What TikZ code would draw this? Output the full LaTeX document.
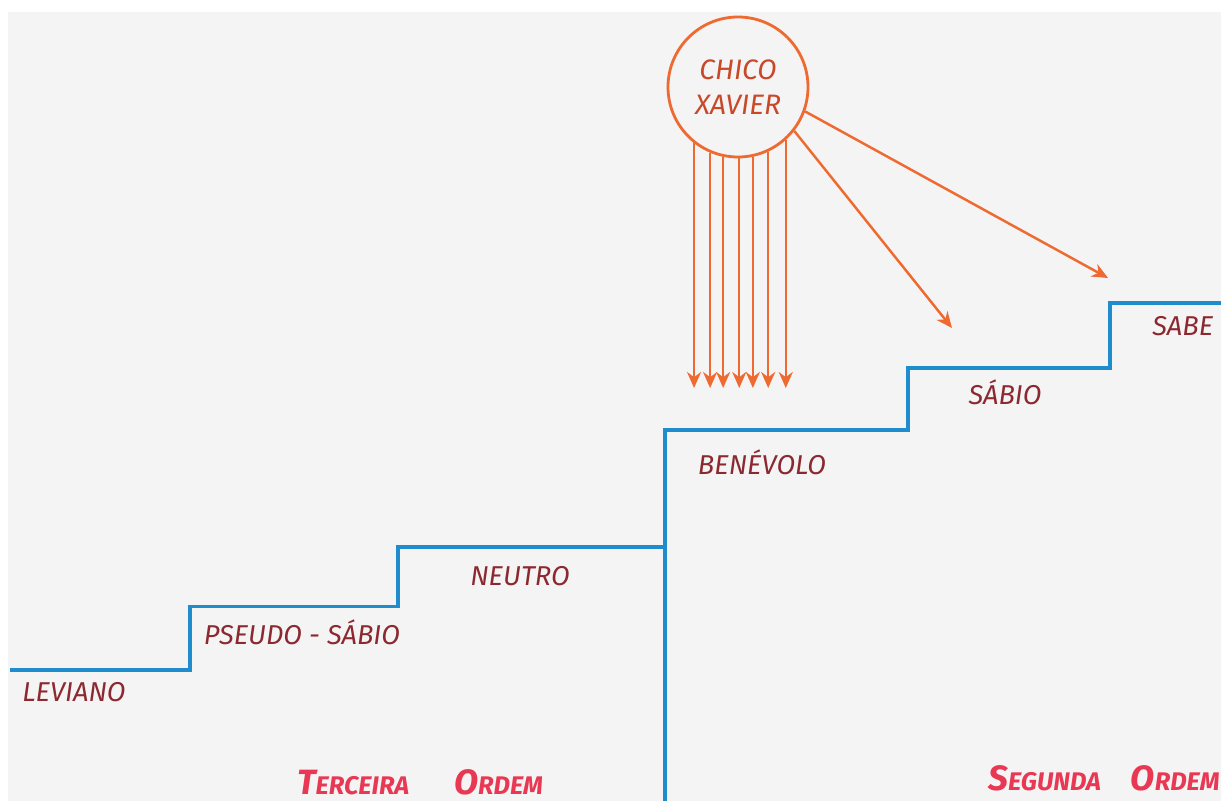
\documentclass[tikz,border=0pt]{standalone}
\usepackage{fontspec}
\setmainfont{Fira Sans}
\usetikzlibrary{arrows.meta,positioning,calc}
\definecolor{escalaPaper}{RGB}{244, 244, 244}
\definecolor{escalaBlue}{RGB}{30, 140, 205}
\definecolor{escalaOrange}{RGB}{238, 106, 48}
\definecolor{escalaRust}{RGB}{200, 72, 40}
\definecolor{escalaWine}{RGB}{140, 40, 48}
\definecolor{escalaPink}{RGB}{232, 56, 84}
\newcommand{\ordemcap}[2]{{\fontsize{20}{22}\selectfont #1}#2}

\begin{document}
\begin{tikzpicture}[
  stair/.style={line width=2pt, escalaBlue, line join=miter},
  grau/.style={text=escalaWine, font=\fontsize{15.5}{18}\selectfont\itshape, inner sep=0pt},
  ordem/.style={text=escalaPink, font=\fontsize{14.5}{17}\selectfont\bfseries\itshape, inner sep=0pt},
  spirit/.style={
    draw=escalaOrange,
    line width=1.6pt,
    circle,
    minimum size=2.8cm,
    align=center,
    text=escalaRust,
    font=\fontsize{16}{20}\selectfont\itshape
  },
  ray/.style={-{Stealth[length=3.2mm,width=2.8mm]}, line width=1.4pt, escalaOrange}
]
  % paper and page size
  \useasboundingbox (0,0) rectangle (24.42,-16.02);
  \fill[white] (0,0) rectangle (24.42,-16.02);
  \fill[escalaPaper] (0.16,-0.24) rectangle (24.42,-16.02);

  % the staircase
  \draw[stair] (0.2,-13.4) -- (3.8,-13.4) -- (3.8,-12.13) -- (7.96,-12.13)
    -- (7.96,-10.94) -- (13.3,-10.94);
  \draw[stair] (13.3,-16.02) -- (13.3,-8.6) -- (18.16,-8.6) -- (18.16,-7.36)
    -- (22.2,-7.36) -- (22.2,-6.06) -- (24.42,-6.06);

  % steps
  \node[grau] (leviano) at (1.48,-13.84) {LEVIANO};
  \node[grau] (pseudo) at (6.04,-12.64) {PSEUDO - SÁBIO};
  \node[grau] (neutro) at (10.4,-11.52) {NEUTRO};
  \node[grau] (benevolo) at (15.24,-9.24) {BENÉVOLO};
  \node[grau] (sabio) at (20.1,-7.84) {SÁBIO};
  \node[grau,anchor=west] (sabe) at (23.04,-6.52) {SABE};

  % orders
  \node[ordem] (terceira) at (8.4,-15.64) {\ordemcap{T}{ERCEIRA}\hspace{0.9cm}\ordemcap{O}{RDEM}};
  \node[ordem,anchor=east] (segunda) at (24.4,-15.56) {\ordemcap{S}{EGUNDA}\hspace{0.6cm}\ordemcap{O}{RDEM}};

  % Chico Xavier and his rays
  \node[spirit] (chico) at (14.76,-1.74) {CHICO\\XAVIER};
  \coordinate (tips) at (14.76,-7.76);
  \foreach \a in {232,247,258,271,282,295,312}
    \draw[ray] (chico.\a) -- (chico.\a |- tips);
  \coordinate (sabioTip) at (19.04,-6.56);
  \coordinate (sabeTip) at (22.16,-5.56);
  \draw[ray] (chico.322) -- (sabioTip);
  \draw[ray] (chico.340) -- (sabeTip);
\end{tikzpicture}
\end{document}
